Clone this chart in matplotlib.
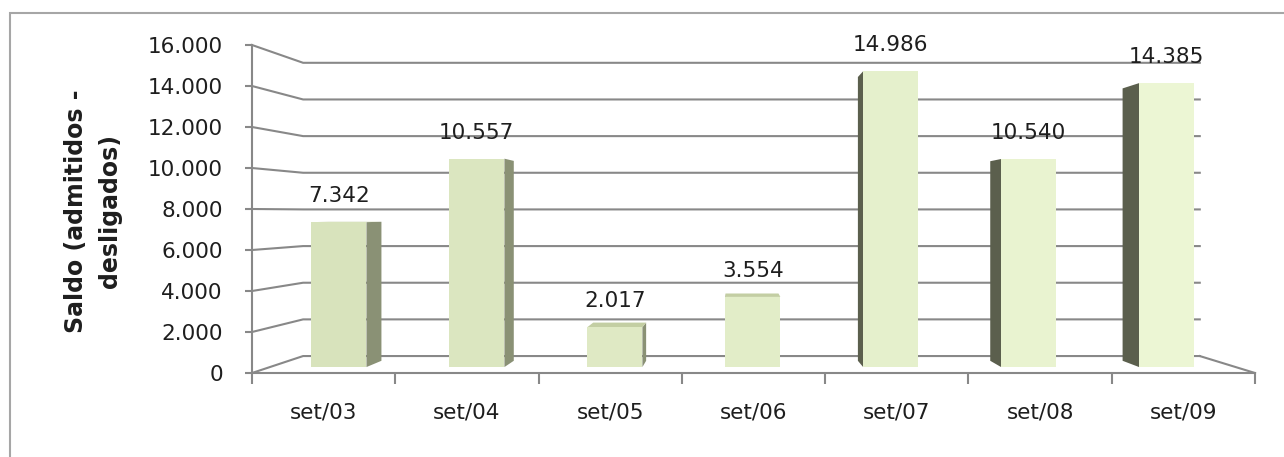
import matplotlib
matplotlib.use("Agg")
import matplotlib.pyplot as plt
from matplotlib.patches import Polygon, Rectangle
from matplotlib.ticker import FuncFormatter
import numpy as np

categories = ["set/03", "set/04", "set/05", "set/06", "set/07", "set/08", "set/09"]
saldo = [7342, 10557, 2017, 3554, 14986, 10540, 14385]
y_ticks = [0, 2000, 4000, 6000, 8000, 10000, 12000, 14000, 16000]
y_label = "Saldo (admitidos -\ndesligados)"

W, H = 1284, 457
GRID = "#888888"
TEXT = "#1e1e1e"

# fake Excel perspective: vanishing point in data coords, depth 0 = front, 1 = back
VC, VV = 3.364, 7805.0
SHRINK = 0.106
D0, D1 = 0.35, 0.72  # bar depth band


def proj(c, v, d):
    s = 1 - SHRINK * d
    return VC + (c - VC) * s, VV + (v - VV) * s


def fmt(v, pos=None):
    return f"{v:,.0f}".replace(",", ".")


fig = plt.figure(figsize=(W / 100, H / 100), dpi=100)
ax = fig.add_axes([252 / W, (H - 373) / H, (1255 - 252) / W, (373 - 45) / H])
ax.set_xlim(0, len(categories))
ax.set_ylim(0, y_ticks[-1])
ax.patch.set_visible(False)

for side in ["top", "right"]:
    ax.spines[side].set_visible(False)
for side in ["left", "bottom"]:
    ax.spines[side].set_color(GRID)
    ax.spines[side].set_linewidth(1.5)

# back wall gridlines with the diagonal side-wall part
n = len(categories)
for v in y_ticks:
    pts = [proj(0, v, 0), proj(0, v, 1), proj(n, v, 1)]
    ax.plot([p[0] for p in pts], [p[1] for p in pts], color=GRID, lw=1.5,
            zorder=1, clip_on=False, solid_joinstyle="miter")
# right floor edge
p, q = proj(n, 0, 0), proj(n, 0, 1)
ax.plot([p[0], q[0]], [p[1], q[1]], color=GRID, lw=1.5, zorder=1, clip_on=False)

front_cols = plt.matplotlib.colors.LinearSegmentedColormap.from_list(
    "g", ["#d8e3bc", "#ecf6d4"])
for i, v in enumerate(saldo):
    x0, x1 = i + 0.3, i + 0.7
    fc = front_cols(i / (n - 1))
    # side face
    if (x0 + x1) / 2 < VC:
        xs, sc = x1, "#8a9175"
    else:
        xs, sc = x0, "#5b5f4d"
    side = [proj(xs, 0, D0), proj(xs, 0, D1), proj(xs, v, D1), proj(xs, v, D0)]
    ax.add_patch(Polygon(side, closed=True, fc=sc, ec="none", zorder=3, clip_on=False))
    if v < VV:
        top = [proj(x0, v, D0), proj(x1, v, D0), proj(x1, v, D1), proj(x0, v, D1)]
        ax.add_patch(Polygon(top, closed=True, fc="#c3cea3", ec="none", zorder=3,
                             clip_on=False))
    front = [proj(x0, 0, D0), proj(x1, 0, D0), proj(x1, v, D0), proj(x0, v, D0)]
    ax.add_patch(Polygon(front, closed=True, fc=fc, ec="none", zorder=4, clip_on=False))
    lx, ly = proj(i + 0.5, v, D0)
    ax.annotate(fmt(v), (lx, ly), xytext=(0, 26), textcoords="offset pixels",
                ha="center", va="center", fontsize=15.5, color=TEXT, zorder=5)

ax.set_yticks(y_ticks)
ax.yaxis.set_major_formatter(FuncFormatter(fmt))
ax.tick_params(axis="y", direction="out", length=5, width=1.5, color=GRID,
               pad=16, labelsize=15.5, labelcolor=TEXT)

ax.set_xticks(np.arange(n) + 0.5)
ax.set_xticklabels(categories)
ax.set_xticks(np.arange(n + 1), minor=True)
ax.tick_params(axis="x", which="major", length=0, pad=21, labelsize=15.5,
               labelcolor=TEXT)
ax.tick_params(axis="x", which="minor", direction="out", length=8, width=1.5,
               color=GRID)

fig.text(93 / W, 1 - 211 / H, y_label, rotation=90, ha="center", va="center",
         fontsize=17, fontweight="bold", color=TEXT, linespacing=1.55,
         multialignment="center")

# chart area border (runs off the right and bottom edges)
fig.patches.append(Rectangle((10 / W, -0.2), 2, 1.2 - 13 / H, transform=fig.transFigure,
                             fill=False, ec="#a6a6a6", lw=1.5))

fig.savefig("out.png", dpi=100)
